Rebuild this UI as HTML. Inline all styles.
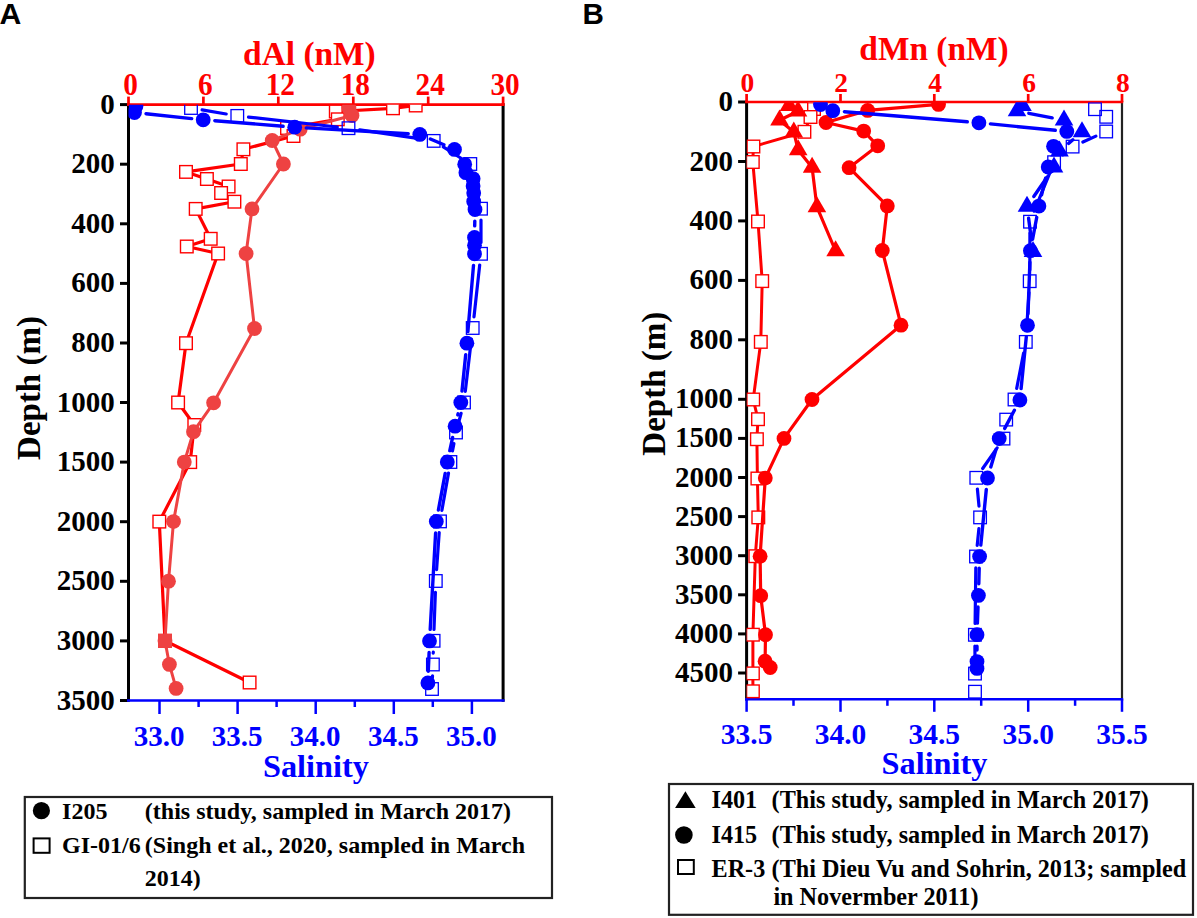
<!DOCTYPE html>
<html><head><meta charset="utf-8"><title>Figure</title>
<style>html,body{margin:0;padding:0;background:#fff;width:1197px;height:918px;overflow:hidden}svg{display:block}</style>
</head><body>
<svg width="1197" height="918" viewBox="0 0 1197 918">
<rect width="1197" height="918" fill="#fff"/>
<text x="-0.6" y="24" font-family="Liberation Sans" font-weight="bold" font-size="30.2" fill="#000">A</text>
<line x1="128.5" y1="103.3" x2="128.5" y2="701.8" stroke="#000000" stroke-width="3"/>
<line x1="503.1" y1="103.3" x2="503.1" y2="701.8" stroke="#000000" stroke-width="3"/>
<line x1="120.0" y1="104.6" x2="128.5" y2="104.6" stroke="#000000" stroke-width="3"/>
<text x="114.7" y="113.6" font-size="29" fill="#000000" text-anchor="end" font-family="Liberation Serif" font-weight="bold" >0</text>
<line x1="120.0" y1="164.2" x2="128.5" y2="164.2" stroke="#000000" stroke-width="3"/>
<text x="114.7" y="173.2" font-size="29" fill="#000000" text-anchor="end" font-family="Liberation Serif" font-weight="bold" >200</text>
<line x1="120.0" y1="223.8" x2="128.5" y2="223.8" stroke="#000000" stroke-width="3"/>
<text x="114.7" y="232.8" font-size="29" fill="#000000" text-anchor="end" font-family="Liberation Serif" font-weight="bold" >400</text>
<line x1="120.0" y1="283.4" x2="128.5" y2="283.4" stroke="#000000" stroke-width="3"/>
<text x="114.7" y="292.4" font-size="29" fill="#000000" text-anchor="end" font-family="Liberation Serif" font-weight="bold" >600</text>
<line x1="120.0" y1="343.0" x2="128.5" y2="343.0" stroke="#000000" stroke-width="3"/>
<text x="114.7" y="352.0" font-size="29" fill="#000000" text-anchor="end" font-family="Liberation Serif" font-weight="bold" >800</text>
<line x1="120.0" y1="402.5" x2="128.5" y2="402.5" stroke="#000000" stroke-width="3"/>
<text x="114.7" y="411.5" font-size="29" fill="#000000" text-anchor="end" font-family="Liberation Serif" font-weight="bold" >1000</text>
<line x1="120.0" y1="462.1" x2="128.5" y2="462.1" stroke="#000000" stroke-width="3"/>
<text x="114.7" y="471.1" font-size="29" fill="#000000" text-anchor="end" font-family="Liberation Serif" font-weight="bold" >1500</text>
<line x1="120.0" y1="521.7" x2="128.5" y2="521.7" stroke="#000000" stroke-width="3"/>
<text x="114.7" y="530.7" font-size="29" fill="#000000" text-anchor="end" font-family="Liberation Serif" font-weight="bold" >2000</text>
<line x1="120.0" y1="581.3" x2="128.5" y2="581.3" stroke="#000000" stroke-width="3"/>
<text x="114.7" y="590.3" font-size="29" fill="#000000" text-anchor="end" font-family="Liberation Serif" font-weight="bold" >2500</text>
<line x1="120.0" y1="640.9" x2="128.5" y2="640.9" stroke="#000000" stroke-width="3"/>
<text x="114.7" y="649.9" font-size="29" fill="#000000" text-anchor="end" font-family="Liberation Serif" font-weight="bold" >3000</text>
<line x1="120.0" y1="700.5" x2="128.5" y2="700.5" stroke="#000000" stroke-width="3"/>
<text x="114.7" y="709.5" font-size="29" fill="#000000" text-anchor="end" font-family="Liberation Serif" font-weight="bold" >3500</text>
<line x1="127.0" y1="104.6" x2="504.6" y2="104.6" stroke="#ff0000" stroke-width="2.7"/>
<line x1="128.5" y1="104.6" x2="128.5" y2="96.6" stroke="#ff0000" stroke-width="2.7"/>
<text transform="translate(130.5,94.6) scale(1,1.06)" font-size="29.3" fill="#ff0000" text-anchor="middle" font-family="Liberation Serif" font-weight="bold" >0</text>
<line x1="203.4" y1="104.6" x2="203.4" y2="96.6" stroke="#ff0000" stroke-width="2.7"/>
<text transform="translate(205.4,94.6) scale(1,1.06)" font-size="29.3" fill="#ff0000" text-anchor="middle" font-family="Liberation Serif" font-weight="bold" >6</text>
<line x1="278.3" y1="104.6" x2="278.3" y2="96.6" stroke="#ff0000" stroke-width="2.7"/>
<text transform="translate(280.3,94.6) scale(1,1.06)" font-size="29.3" fill="#ff0000" text-anchor="middle" font-family="Liberation Serif" font-weight="bold" >12</text>
<line x1="353.3" y1="104.6" x2="353.3" y2="96.6" stroke="#ff0000" stroke-width="2.7"/>
<text transform="translate(355.3,94.6) scale(1,1.06)" font-size="29.3" fill="#ff0000" text-anchor="middle" font-family="Liberation Serif" font-weight="bold" >18</text>
<line x1="428.2" y1="104.6" x2="428.2" y2="96.6" stroke="#ff0000" stroke-width="2.7"/>
<text transform="translate(430.2,94.6) scale(1,1.06)" font-size="29.3" fill="#ff0000" text-anchor="middle" font-family="Liberation Serif" font-weight="bold" >24</text>
<line x1="503.1" y1="104.6" x2="503.1" y2="96.6" stroke="#ff0000" stroke-width="2.7"/>
<text transform="translate(505.1,94.6) scale(1,1.06)" font-size="29.3" fill="#ff0000" text-anchor="middle" font-family="Liberation Serif" font-weight="bold" >30</text>
<text x="309.4" y="65.3" font-size="33.4" fill="#ff0000" text-anchor="middle" font-family="Liberation Serif" font-weight="bold" >dAl (nM)</text>
<line x1="127.0" y1="700.5" x2="504.6" y2="700.5" stroke="#0000ff" stroke-width="2.5"/>
<line x1="159.5" y1="700.5" x2="159.5" y2="714.0" stroke="#0000ff" stroke-width="2.5"/>
<text x="159.0" y="745.6" font-size="29" fill="#0000ff" text-anchor="middle" font-family="Liberation Serif" font-weight="bold" >33.0</text>
<line x1="198.6" y1="700.5" x2="198.6" y2="707.0" stroke="#0000ff" stroke-width="2.5"/>
<line x1="237.6" y1="700.5" x2="237.6" y2="714.0" stroke="#0000ff" stroke-width="2.5"/>
<text x="237.1" y="745.6" font-size="29" fill="#0000ff" text-anchor="middle" font-family="Liberation Serif" font-weight="bold" >33.5</text>
<line x1="276.6" y1="700.5" x2="276.6" y2="707.0" stroke="#0000ff" stroke-width="2.5"/>
<line x1="315.7" y1="700.5" x2="315.7" y2="714.0" stroke="#0000ff" stroke-width="2.5"/>
<text x="315.2" y="745.6" font-size="29" fill="#0000ff" text-anchor="middle" font-family="Liberation Serif" font-weight="bold" >34.0</text>
<line x1="354.8" y1="700.5" x2="354.8" y2="707.0" stroke="#0000ff" stroke-width="2.5"/>
<line x1="393.8" y1="700.5" x2="393.8" y2="714.0" stroke="#0000ff" stroke-width="2.5"/>
<text x="393.3" y="745.6" font-size="29" fill="#0000ff" text-anchor="middle" font-family="Liberation Serif" font-weight="bold" >34.5</text>
<line x1="432.8" y1="700.5" x2="432.8" y2="707.0" stroke="#0000ff" stroke-width="2.5"/>
<line x1="471.9" y1="700.5" x2="471.9" y2="714.0" stroke="#0000ff" stroke-width="2.5"/>
<text x="471.4" y="745.6" font-size="29" fill="#0000ff" text-anchor="middle" font-family="Liberation Serif" font-weight="bold" >35.0</text>
<text x="315.9" y="777.2" font-size="32.3" fill="#0000ff" text-anchor="middle" font-family="Liberation Serif" font-weight="bold" >Salinity</text>
<text transform="translate(40.2,388) rotate(-90)" x="0" y="0" font-size="33" fill="#000" text-anchor="middle" font-family="Liberation Serif" font-weight="bold">Depth (m)</text>
<defs><clipPath id="cA"><rect x="128.5" y="104.8" width="374.6" height="595.9"/></clipPath><clipPath id="cB"><rect x="746.6" y="102.2" width="375.4" height="597.0999999999999"/></clipPath></defs>
<g clip-path="url(#cA)">
<path d="M415.7 105.5L393.0 108.3M393.0 108.3L335.8 111.5M335.8 111.5L337.8 119.3M337.8 119.3L287.0 128.0M287.0 128.0L293.5 136.0M293.5 136.0L243.4 149.3M243.4 149.3L240.8 164.0M240.8 164.0L186.0 171.9M186.0 171.9L206.9 179.0M206.9 179.0L228.6 186.5M228.6 186.5L221.1 193.0M221.1 193.0L234.4 201.7M234.4 201.7L195.7 208.9M195.7 208.9L210.7 238.8M210.7 238.8L186.8 246.5M186.8 246.5L218.1 253.5M218.1 253.5L186.0 343.2M186.0 343.2L178.1 402.5M178.1 402.5L194.3 425.0M194.3 425.0L190.2 462.1M190.2 462.1L159.3 521.6M159.3 521.6L165.0 640.8M165.0 640.8L249.6 682.5" fill="none" stroke="#ff0000" stroke-width="3.2" stroke-linecap="butt"/>
<rect x="409.4" y="99.2" width="12.6" height="12.6" fill="#fff" stroke="#ff0000" stroke-width="1.4"/><rect x="386.7" y="102.0" width="12.6" height="12.6" fill="#fff" stroke="#ff0000" stroke-width="1.4"/><rect x="329.5" y="105.2" width="12.6" height="12.6" fill="#fff" stroke="#ff0000" stroke-width="1.4"/><rect x="331.5" y="113.0" width="12.6" height="12.6" fill="#fff" stroke="#ff0000" stroke-width="1.4"/><rect x="280.7" y="121.7" width="12.6" height="12.6" fill="#fff" stroke="#ff0000" stroke-width="1.4"/><rect x="287.2" y="129.7" width="12.6" height="12.6" fill="#fff" stroke="#ff0000" stroke-width="1.4"/><rect x="237.1" y="143.0" width="12.6" height="12.6" fill="#fff" stroke="#ff0000" stroke-width="1.4"/><rect x="234.5" y="157.7" width="12.6" height="12.6" fill="#fff" stroke="#ff0000" stroke-width="1.4"/><rect x="179.7" y="165.6" width="12.6" height="12.6" fill="#fff" stroke="#ff0000" stroke-width="1.4"/><rect x="200.6" y="172.7" width="12.6" height="12.6" fill="#fff" stroke="#ff0000" stroke-width="1.4"/><rect x="222.3" y="180.2" width="12.6" height="12.6" fill="#fff" stroke="#ff0000" stroke-width="1.4"/><rect x="214.8" y="186.7" width="12.6" height="12.6" fill="#fff" stroke="#ff0000" stroke-width="1.4"/><rect x="228.1" y="195.4" width="12.6" height="12.6" fill="#fff" stroke="#ff0000" stroke-width="1.4"/><rect x="189.4" y="202.6" width="12.6" height="12.6" fill="#fff" stroke="#ff0000" stroke-width="1.4"/><rect x="204.4" y="232.5" width="12.6" height="12.6" fill="#fff" stroke="#ff0000" stroke-width="1.4"/><rect x="180.5" y="240.2" width="12.6" height="12.6" fill="#fff" stroke="#ff0000" stroke-width="1.4"/><rect x="211.8" y="247.2" width="12.6" height="12.6" fill="#fff" stroke="#ff0000" stroke-width="1.4"/><rect x="179.7" y="336.9" width="12.6" height="12.6" fill="#fff" stroke="#ff0000" stroke-width="1.4"/><rect x="171.8" y="396.2" width="12.6" height="12.6" fill="#fff" stroke="#ff0000" stroke-width="1.4"/><rect x="188.0" y="418.7" width="12.6" height="12.6" fill="#fff" stroke="#ff0000" stroke-width="1.4"/><rect x="183.9" y="455.8" width="12.6" height="12.6" fill="#fff" stroke="#ff0000" stroke-width="1.4"/><rect x="153.0" y="515.3" width="12.6" height="12.6" fill="#fff" stroke="#ff0000" stroke-width="1.4"/><rect x="158.7" y="634.5" width="12.6" height="12.6" fill="#fff" stroke="#ff0000" stroke-width="1.4"/><rect x="243.3" y="676.2" width="12.6" height="12.6" fill="#fff" stroke="#ff0000" stroke-width="1.4"/>
<path d="M349.0 108.0L352.0 115.5M352.0 115.5L300.2 129.2M300.2 129.2L272.2 140.5M272.2 140.5L283.4 164.0M283.4 164.0L252.0 208.9M252.0 208.9L246.1 253.5M246.1 253.5L254.5 328.5M254.5 328.5L213.6 402.8M213.6 402.8L193.5 431.7M193.5 431.7L184.3 462.1M184.3 462.1L173.5 521.6M173.5 521.6L168.5 581.2M168.5 581.2L165.0 640.8M165.0 640.8L169.4 664.4M169.4 664.4L176.1 688.4" fill="none" stroke="#ee4242" stroke-width="3" stroke-linecap="butt"/>
<circle cx="349.0" cy="108.0" r="7.4" fill="#ee4242"/><circle cx="352.0" cy="115.5" r="7.4" fill="#ee4242"/><circle cx="300.2" cy="129.2" r="7.4" fill="#ee4242"/><circle cx="272.2" cy="140.5" r="7.4" fill="#ee4242"/><circle cx="283.4" cy="164.0" r="7.4" fill="#ee4242"/><circle cx="252.0" cy="208.9" r="7.4" fill="#ee4242"/><circle cx="246.1" cy="253.5" r="7.4" fill="#ee4242"/><circle cx="254.5" cy="328.5" r="7.4" fill="#ee4242"/><circle cx="213.6" cy="402.8" r="7.4" fill="#ee4242"/><circle cx="193.5" cy="431.7" r="7.4" fill="#ee4242"/><circle cx="184.3" cy="462.1" r="7.4" fill="#ee4242"/><circle cx="173.5" cy="521.6" r="7.4" fill="#ee4242"/><circle cx="168.5" cy="581.2" r="7.4" fill="#ee4242"/><circle cx="165.0" cy="640.8" r="7.4" fill="#ee4242"/><circle cx="169.4" cy="664.4" r="7.4" fill="#ee4242"/><circle cx="176.1" cy="688.4" r="7.4" fill="#ee4242"/>
<rect x="158" y="633.8" width="14" height="14" fill="#ee4242"/>
<path d="M202.1 109.9L226.2 114.0M248.5 117.1L337.3 127.0M359.7 129.9L422.5 139.2M443.3 146.9L460.7 158.0M472.9 175.0L478.4 197.7M481.0 220.0L481.0 242.5M479.7 265.0L474.0 316.8M471.4 339.2L465.3 391.3M461.1 413.4L458.9 421.6M453.9 443.6L452.5 450.9M448.5 473.1L441.9 510.3M439.2 532.7L436.6 569.7M435.4 592.3L434.0 629.5M433.3 652.1L433.2 653.2M432.5 675.8L432.4 677.7" fill="none" stroke="#0000ff" stroke-width="3.2" stroke-linecap="round"/>
<rect x="184.7" y="101.7" width="12.6" height="12.6" fill="none" stroke="#0000ff" stroke-width="1.3"/><rect x="231.0" y="109.6" width="12.6" height="12.6" fill="none" stroke="#0000ff" stroke-width="1.3"/><rect x="342.2" y="121.9" width="12.6" height="12.6" fill="none" stroke="#0000ff" stroke-width="1.3"/><rect x="427.4" y="134.6" width="12.6" height="12.6" fill="none" stroke="#0000ff" stroke-width="1.3"/><rect x="464.0" y="157.7" width="12.6" height="12.6" fill="none" stroke="#0000ff" stroke-width="1.3"/><rect x="474.7" y="202.4" width="12.6" height="12.6" fill="none" stroke="#0000ff" stroke-width="1.3"/><rect x="474.7" y="247.5" width="12.6" height="12.6" fill="none" stroke="#0000ff" stroke-width="1.3"/><rect x="466.4" y="321.7" width="12.6" height="12.6" fill="none" stroke="#0000ff" stroke-width="1.3"/><rect x="457.7" y="396.2" width="12.6" height="12.6" fill="none" stroke="#0000ff" stroke-width="1.3"/><rect x="449.7" y="426.2" width="12.6" height="12.6" fill="none" stroke="#0000ff" stroke-width="1.3"/><rect x="444.1" y="455.7" width="12.6" height="12.6" fill="none" stroke="#0000ff" stroke-width="1.3"/><rect x="433.7" y="515.1" width="12.6" height="12.6" fill="none" stroke="#0000ff" stroke-width="1.3"/><rect x="429.5" y="574.7" width="12.6" height="12.6" fill="none" stroke="#0000ff" stroke-width="1.3"/><rect x="427.3" y="634.5" width="12.6" height="12.6" fill="none" stroke="#0000ff" stroke-width="1.3"/><rect x="426.6" y="658.2" width="12.6" height="12.6" fill="none" stroke="#0000ff" stroke-width="1.3"/><rect x="425.7" y="682.7" width="12.6" height="12.6" fill="none" stroke="#0000ff" stroke-width="1.3"/>
<path d="M146.0 113.7L191.7 118.6M214.8 120.7L283.1 126.3M306.3 127.9L408.2 133.7M430.4 139.0L443.9 144.8M474.8 221.1L474.7 225.9M473.5 265.4L467.9 331.6M465.7 354.7L462.0 391.0M458.1 413.8L457.8 414.9M452.6 437.5L449.8 450.7M445.2 473.4L438.4 510.0M435.6 533.0L430.2 629.3M429.1 652.5L428.3 671.3" fill="none" stroke="#0000ff" stroke-width="3.4" stroke-linecap="round"/>
<circle cx="136.0" cy="106.0" r="7.4" fill="#0000ff"/><circle cx="134.5" cy="112.5" r="7.4" fill="#0000ff"/><circle cx="203.2" cy="119.8" r="7.4" fill="#0000ff"/><circle cx="294.7" cy="127.2" r="7.4" fill="#0000ff"/><circle cx="419.8" cy="134.4" r="7.4" fill="#0000ff"/><circle cx="454.5" cy="149.4" r="7.4" fill="#0000ff"/><circle cx="464.7" cy="164.3" r="7.4" fill="#0000ff"/><circle cx="465.9" cy="172.7" r="7.4" fill="#0000ff"/><circle cx="473.1" cy="178.7" r="7.4" fill="#0000ff"/><circle cx="473.1" cy="185.9" r="7.4" fill="#0000ff"/><circle cx="473.7" cy="193.1" r="7.4" fill="#0000ff"/><circle cx="473.7" cy="201.5" r="7.4" fill="#0000ff"/><circle cx="475.0" cy="209.5" r="7.4" fill="#0000ff"/><circle cx="474.5" cy="237.5" r="7.4" fill="#0000ff"/><circle cx="474.5" cy="245.3" r="7.4" fill="#0000ff"/><circle cx="474.5" cy="253.8" r="7.4" fill="#0000ff"/><circle cx="466.9" cy="343.2" r="7.4" fill="#0000ff"/><circle cx="460.8" cy="402.5" r="7.4" fill="#0000ff"/><circle cx="455.1" cy="426.2" r="7.4" fill="#0000ff"/><circle cx="447.3" cy="462.0" r="7.4" fill="#0000ff"/><circle cx="436.3" cy="521.4" r="7.4" fill="#0000ff"/><circle cx="429.5" cy="640.9" r="7.4" fill="#0000ff"/><circle cx="427.9" cy="682.9" r="7.4" fill="#0000ff"/>
</g>
<rect x="24.8" y="797" width="527.2" height="101" fill="none" stroke="#222" stroke-width="2.2"/>
<circle cx="41.4" cy="810.7" r="8.6" fill="#000"/>
<rect x="33.6" y="838.4" width="16" height="14.4" fill="none" stroke="#000" stroke-width="2"/>
<text x="62.1" y="818.7" font-size="24" fill="#000000" text-anchor="start" font-family="Liberation Serif" font-weight="bold" >I205</text>
<text x="144.8" y="818.7" font-size="24" fill="#000000" text-anchor="start" font-family="Liberation Serif" font-weight="bold" >(this study, sampled in March 2017)</text>
<text x="62.1" y="852.5" font-size="24" fill="#000000" text-anchor="start" font-family="Liberation Serif" font-weight="bold" >GI-01/6</text>
<text x="144.8" y="852.5" font-size="24" fill="#000000" text-anchor="start" font-family="Liberation Serif" font-weight="bold" >(Singh et al., 2020, sampled in March</text>
<text x="144.8" y="886.0" font-size="24" fill="#000000" text-anchor="start" font-family="Liberation Serif" font-weight="bold" >2014)</text>
<text x="582.5" y="24" font-family="Liberation Sans" font-weight="bold" font-size="29.6" fill="#000">B</text>
<line x1="746.6" y1="100.7" x2="746.6" y2="700.5999999999999" stroke="#000000" stroke-width="3"/>
<line x1="1122.0" y1="100.7" x2="1122.0" y2="700.5999999999999" stroke="#222" stroke-width="2.2"/>
<line x1="738.1" y1="102.0" x2="746.6" y2="102.0" stroke="#000000" stroke-width="3"/>
<text x="733.0" y="111.0" font-size="29" fill="#000000" text-anchor="end" font-family="Liberation Serif" font-weight="bold" >0</text>
<line x1="738.1" y1="161.5" x2="746.6" y2="161.5" stroke="#000000" stroke-width="3"/>
<text x="733.0" y="170.5" font-size="29" fill="#000000" text-anchor="end" font-family="Liberation Serif" font-weight="bold" >200</text>
<line x1="738.1" y1="220.9" x2="746.6" y2="220.9" stroke="#000000" stroke-width="3"/>
<text x="733.0" y="229.9" font-size="29" fill="#000000" text-anchor="end" font-family="Liberation Serif" font-weight="bold" >400</text>
<line x1="738.1" y1="280.4" x2="746.6" y2="280.4" stroke="#000000" stroke-width="3"/>
<text x="733.0" y="289.4" font-size="29" fill="#000000" text-anchor="end" font-family="Liberation Serif" font-weight="bold" >600</text>
<line x1="738.1" y1="339.8" x2="746.6" y2="339.8" stroke="#000000" stroke-width="3"/>
<text x="733.0" y="348.8" font-size="29" fill="#000000" text-anchor="end" font-family="Liberation Serif" font-weight="bold" >800</text>
<line x1="738.1" y1="399.3" x2="746.6" y2="399.3" stroke="#000000" stroke-width="3"/>
<text x="733.0" y="408.3" font-size="29" fill="#000000" text-anchor="end" font-family="Liberation Serif" font-weight="bold" >1000</text>
<line x1="738.1" y1="438.4" x2="746.6" y2="438.4" stroke="#000000" stroke-width="3"/>
<text x="733.0" y="447.4" font-size="29" fill="#000000" text-anchor="end" font-family="Liberation Serif" font-weight="bold" >1500</text>
<line x1="738.1" y1="477.5" x2="746.6" y2="477.5" stroke="#000000" stroke-width="3"/>
<text x="733.0" y="486.5" font-size="29" fill="#000000" text-anchor="end" font-family="Liberation Serif" font-weight="bold" >2000</text>
<line x1="738.1" y1="516.6" x2="746.6" y2="516.6" stroke="#000000" stroke-width="3"/>
<text x="733.0" y="525.6" font-size="29" fill="#000000" text-anchor="end" font-family="Liberation Serif" font-weight="bold" >2500</text>
<line x1="738.1" y1="555.7" x2="746.6" y2="555.7" stroke="#000000" stroke-width="3"/>
<text x="733.0" y="564.7" font-size="29" fill="#000000" text-anchor="end" font-family="Liberation Serif" font-weight="bold" >3000</text>
<line x1="738.1" y1="594.8" x2="746.6" y2="594.8" stroke="#000000" stroke-width="3"/>
<text x="733.0" y="603.8" font-size="29" fill="#000000" text-anchor="end" font-family="Liberation Serif" font-weight="bold" >3500</text>
<line x1="738.1" y1="633.9" x2="746.6" y2="633.9" stroke="#000000" stroke-width="3"/>
<text x="733.0" y="642.9" font-size="29" fill="#000000" text-anchor="end" font-family="Liberation Serif" font-weight="bold" >4000</text>
<line x1="738.1" y1="673.0" x2="746.6" y2="673.0" stroke="#000000" stroke-width="3"/>
<text x="733.0" y="682.0" font-size="29" fill="#000000" text-anchor="end" font-family="Liberation Serif" font-weight="bold" >4500</text>
<line x1="745.1" y1="102.0" x2="1123.2" y2="102.0" stroke="#ff0000" stroke-width="2.7"/>
<line x1="746.6" y1="102.0" x2="746.6" y2="94.0" stroke="#ff0000" stroke-width="2.7"/>
<text x="747.4" y="92.4" font-size="27.5" fill="#ff0000" text-anchor="middle" font-family="Liberation Serif" font-weight="bold" >0</text>
<line x1="840.5" y1="102.0" x2="840.5" y2="94.0" stroke="#ff0000" stroke-width="2.7"/>
<text x="841.2" y="92.4" font-size="27.5" fill="#ff0000" text-anchor="middle" font-family="Liberation Serif" font-weight="bold" >2</text>
<line x1="934.3" y1="102.0" x2="934.3" y2="94.0" stroke="#ff0000" stroke-width="2.7"/>
<text x="935.1" y="92.4" font-size="27.5" fill="#ff0000" text-anchor="middle" font-family="Liberation Serif" font-weight="bold" >4</text>
<line x1="1028.2" y1="102.0" x2="1028.2" y2="94.0" stroke="#ff0000" stroke-width="2.7"/>
<text x="1029.0" y="92.4" font-size="27.5" fill="#ff0000" text-anchor="middle" font-family="Liberation Serif" font-weight="bold" >6</text>
<line x1="1122.0" y1="102.0" x2="1122.0" y2="94.0" stroke="#ff0000" stroke-width="2.7"/>
<text x="1122.8" y="92.4" font-size="27.5" fill="#ff0000" text-anchor="middle" font-family="Liberation Serif" font-weight="bold" >8</text>
<text x="934.0" y="59.6" font-size="33.4" fill="#ff0000" text-anchor="middle" font-family="Liberation Serif" font-weight="bold" >dMn (nM)</text>
<line x1="745.1" y1="699.3" x2="1123.2" y2="699.3" stroke="#0000ff" stroke-width="2.5"/>
<line x1="746.6" y1="699.3" x2="746.6" y2="711.8" stroke="#0000ff" stroke-width="2.5"/>
<text x="746.6" y="744.2" font-size="29.5" fill="#0000ff" text-anchor="middle" font-family="Liberation Serif" font-weight="bold" >33.5</text>
<line x1="793.5" y1="699.3" x2="793.5" y2="705.8" stroke="#0000ff" stroke-width="2.5"/>
<line x1="840.5" y1="699.3" x2="840.5" y2="711.8" stroke="#0000ff" stroke-width="2.5"/>
<text x="840.5" y="744.2" font-size="29.5" fill="#0000ff" text-anchor="middle" font-family="Liberation Serif" font-weight="bold" >34.0</text>
<line x1="887.4" y1="699.3" x2="887.4" y2="705.8" stroke="#0000ff" stroke-width="2.5"/>
<line x1="934.3" y1="699.3" x2="934.3" y2="711.8" stroke="#0000ff" stroke-width="2.5"/>
<text x="934.3" y="744.2" font-size="29.5" fill="#0000ff" text-anchor="middle" font-family="Liberation Serif" font-weight="bold" >34.5</text>
<line x1="981.2" y1="699.3" x2="981.2" y2="705.8" stroke="#0000ff" stroke-width="2.5"/>
<line x1="1028.2" y1="699.3" x2="1028.2" y2="711.8" stroke="#0000ff" stroke-width="2.5"/>
<text x="1028.2" y="744.2" font-size="29.5" fill="#0000ff" text-anchor="middle" font-family="Liberation Serif" font-weight="bold" >35.0</text>
<line x1="1075.1" y1="699.3" x2="1075.1" y2="705.8" stroke="#0000ff" stroke-width="2.5"/>
<line x1="1122.0" y1="699.3" x2="1122.0" y2="711.8" stroke="#0000ff" stroke-width="2.5"/>
<text x="1122.0" y="744.2" font-size="29.5" fill="#0000ff" text-anchor="middle" font-family="Liberation Serif" font-weight="bold" >35.5</text>
<text x="934.5" y="774.3" font-size="32.3" fill="#0000ff" text-anchor="middle" font-family="Liberation Serif" font-weight="bold" >Salinity</text>
<text transform="translate(664.8,383.7) rotate(-90)" x="0" y="0" font-size="33" fill="#000" text-anchor="middle" font-family="Liberation Serif" font-weight="bold">Depth (m)</text>
<g clip-path="url(#cB)">
<path d="M814.0 104.0L814.0 109.0M814.0 109.0L810.5 117.0M810.5 117.0L804.4 131.8M804.4 131.8L753.4 146.5M753.4 146.5L752.8 162.0M752.8 162.0L758.0 221.5M758.0 221.5L762.2 281.1M762.2 281.1L760.8 341.9M760.8 341.9L753.2 399.5M753.2 399.5L758.0 419.2M758.0 419.2L756.9 439.2M756.9 439.2L757.4 478.5M757.4 478.5L758.3 517.4M758.3 517.4L755.3 556.2M755.3 556.2L752.9 634.7M752.9 634.7L752.9 673.4M752.9 673.4L752.9 691.3" fill="none" stroke="#ff0000" stroke-width="3" stroke-linecap="butt"/>
<rect x="807.7" y="97.7" width="12.6" height="12.6" fill="#fff" stroke="#ff0000" stroke-width="1.4"/><rect x="807.7" y="102.7" width="12.6" height="12.6" fill="#fff" stroke="#ff0000" stroke-width="1.4"/><rect x="804.2" y="110.7" width="12.6" height="12.6" fill="#fff" stroke="#ff0000" stroke-width="1.4"/><rect x="798.1" y="125.5" width="12.6" height="12.6" fill="#fff" stroke="#ff0000" stroke-width="1.4"/><rect x="747.1" y="140.2" width="12.6" height="12.6" fill="#fff" stroke="#ff0000" stroke-width="1.4"/><rect x="746.5" y="155.7" width="12.6" height="12.6" fill="#fff" stroke="#ff0000" stroke-width="1.4"/><rect x="751.7" y="215.2" width="12.6" height="12.6" fill="#fff" stroke="#ff0000" stroke-width="1.4"/><rect x="755.9" y="274.8" width="12.6" height="12.6" fill="#fff" stroke="#ff0000" stroke-width="1.4"/><rect x="754.5" y="335.6" width="12.6" height="12.6" fill="#fff" stroke="#ff0000" stroke-width="1.4"/><rect x="746.9" y="393.2" width="12.6" height="12.6" fill="#fff" stroke="#ff0000" stroke-width="1.4"/><rect x="751.7" y="412.9" width="12.6" height="12.6" fill="#fff" stroke="#ff0000" stroke-width="1.4"/><rect x="750.6" y="432.9" width="12.6" height="12.6" fill="#fff" stroke="#ff0000" stroke-width="1.4"/><rect x="751.1" y="472.2" width="12.6" height="12.6" fill="#fff" stroke="#ff0000" stroke-width="1.4"/><rect x="752.0" y="511.1" width="12.6" height="12.6" fill="#fff" stroke="#ff0000" stroke-width="1.4"/><rect x="749.0" y="549.9" width="12.6" height="12.6" fill="#fff" stroke="#ff0000" stroke-width="1.4"/><rect x="746.6" y="628.4" width="12.6" height="12.6" fill="#fff" stroke="#ff0000" stroke-width="1.4"/><rect x="746.6" y="667.1" width="12.6" height="12.6" fill="#fff" stroke="#ff0000" stroke-width="1.4"/><rect x="746.6" y="685.0" width="12.6" height="12.6" fill="#fff" stroke="#ff0000" stroke-width="1.4"/>
<path d="M789.0 105.7L798.0 111.2M798.0 111.2L779.5 120.3M779.5 120.3L793.8 132.1M793.8 132.1L798.2 150.0M798.2 150.0L812.1 167.5M812.1 167.5L816.9 206.9M816.9 206.9L835.6 251.0" fill="none" stroke="#ff0000" stroke-width="3.2" stroke-linecap="butt"/>
<path d="M789.0 95.0L798.3 111.0L779.7 111.0Z" fill="#ff0000"/><path d="M798.0 100.5L807.3 116.5L788.7 116.5Z" fill="#ff0000"/><path d="M779.5 109.6L788.8 125.6L770.2 125.6Z" fill="#ff0000"/><path d="M793.8 121.4L803.1 137.4L784.5 137.4Z" fill="#ff0000"/><path d="M798.2 139.3L807.5 155.3L788.9 155.3Z" fill="#ff0000"/><path d="M812.1 156.8L821.4 172.8L802.8 172.8Z" fill="#ff0000"/><path d="M816.9 196.2L826.2 212.2L807.6 212.2Z" fill="#ff0000"/><path d="M835.6 240.3L844.9 256.3L826.3 256.3Z" fill="#ff0000"/>
<path d="M938.5 104.4L867.7 110.4M867.7 110.4L826.0 122.5M826.0 122.5L863.7 131.1M863.7 131.1L877.7 145.8M877.7 145.8L849.1 167.7M849.1 167.7L887.3 205.9M887.3 205.9L882.3 250.5M882.3 250.5L901.0 325.2M901.0 325.2L812.0 399.5M812.0 399.5L784.0 438.4M784.0 438.4L765.3 478.1M765.3 478.1L760.1 556.2M760.1 556.2L760.7 595.7M760.7 595.7L765.5 634.7M765.5 634.7L765.1 661.2M765.1 661.2L770.2 667.5" fill="none" stroke="#ff0000" stroke-width="3.2" stroke-linecap="butt"/>
<circle cx="938.5" cy="104.4" r="7.4" fill="#ff0000"/><circle cx="867.7" cy="110.4" r="7.4" fill="#ff0000"/><circle cx="826.0" cy="122.5" r="7.4" fill="#ff0000"/><circle cx="863.7" cy="131.1" r="7.4" fill="#ff0000"/><circle cx="877.7" cy="145.8" r="7.4" fill="#ff0000"/><circle cx="849.1" cy="167.7" r="7.4" fill="#ff0000"/><circle cx="887.3" cy="205.9" r="7.4" fill="#ff0000"/><circle cx="882.3" cy="250.5" r="7.4" fill="#ff0000"/><circle cx="901.0" cy="325.2" r="7.4" fill="#ff0000"/><circle cx="812.0" cy="399.5" r="7.4" fill="#ff0000"/><circle cx="784.0" cy="438.4" r="7.4" fill="#ff0000"/><circle cx="765.3" cy="478.1" r="7.4" fill="#ff0000"/><circle cx="760.1" cy="556.2" r="7.4" fill="#ff0000"/><circle cx="760.7" cy="595.7" r="7.4" fill="#ff0000"/><circle cx="765.5" cy="634.7" r="7.4" fill="#ff0000"/><circle cx="765.1" cy="661.2" r="7.4" fill="#ff0000"/><circle cx="770.2" cy="667.5" r="7.4" fill="#ff0000"/>
<path d="M1095.9 136.1L1082.9 142.0M1064.0 153.9L1062.7 154.9M1049.9 172.7L1034.2 211.2M1029.9 233.0L1029.8 269.9M1029.0 292.5L1026.5 330.6M1023.6 353.0L1016.7 388.4M997.1 447.9L982.7 468.5M977.4 489.0L979.0 506.2M978.9 528.6L977.2 545.3M975.8 567.8L975.1 623.5M974.9 646.1L975.0 662.3" fill="none" stroke="#0000ff" stroke-width="3.2" stroke-linecap="round"/>
<rect x="1088.7" y="102.9" width="12.6" height="12.6" fill="none" stroke="#0000ff" stroke-width="1.3"/><rect x="1099.9" y="110.5" width="12.6" height="12.6" fill="none" stroke="#0000ff" stroke-width="1.3"/><rect x="1099.9" y="125.2" width="12.6" height="12.6" fill="none" stroke="#0000ff" stroke-width="1.3"/><rect x="1066.3" y="140.3" width="12.6" height="12.6" fill="none" stroke="#0000ff" stroke-width="1.3"/><rect x="1047.8" y="155.9" width="12.6" height="12.6" fill="none" stroke="#0000ff" stroke-width="1.3"/><rect x="1023.7" y="215.4" width="12.6" height="12.6" fill="none" stroke="#0000ff" stroke-width="1.3"/><rect x="1023.4" y="274.9" width="12.6" height="12.6" fill="none" stroke="#0000ff" stroke-width="1.3"/><rect x="1019.5" y="335.6" width="12.6" height="12.6" fill="none" stroke="#0000ff" stroke-width="1.3"/><rect x="1008.2" y="393.2" width="12.6" height="12.6" fill="none" stroke="#0000ff" stroke-width="1.3"/><rect x="999.9" y="413.3" width="12.6" height="12.6" fill="none" stroke="#0000ff" stroke-width="1.3"/><rect x="997.2" y="432.3" width="12.6" height="12.6" fill="none" stroke="#0000ff" stroke-width="1.3"/><rect x="970.0" y="471.5" width="12.6" height="12.6" fill="none" stroke="#0000ff" stroke-width="1.3"/><rect x="973.8" y="511.1" width="12.6" height="12.6" fill="none" stroke="#0000ff" stroke-width="1.3"/><rect x="969.7" y="550.2" width="12.6" height="12.6" fill="none" stroke="#0000ff" stroke-width="1.3"/><rect x="968.6" y="628.5" width="12.6" height="12.6" fill="none" stroke="#0000ff" stroke-width="1.3"/><rect x="968.7" y="667.3" width="12.6" height="12.6" fill="none" stroke="#0000ff" stroke-width="1.3"/><rect x="968.7" y="685.4" width="12.6" height="12.6" fill="none" stroke="#0000ff" stroke-width="1.3"/>
<path d="M1028.8 113.3L1052.2 117.9M1072.9 139.8L1068.6 143.4M1047.2 177.0L1033.8 196.5M1028.6 218.3L1031.4 239.8" fill="none" stroke="#0000ff" stroke-width="3.4" stroke-linecap="round"/>
<path d="M1022.5 95.0L1031.8 111.0L1013.2 111.0Z" fill="#0000ff"/><path d="M1017.0 100.3L1026.3 116.3L1007.7 116.3Z" fill="#0000ff"/><path d="M1064.0 109.6L1073.3 125.6L1054.7 125.6Z" fill="#0000ff"/><path d="M1082.0 121.3L1091.3 137.3L1072.7 137.3Z" fill="#0000ff"/><path d="M1059.5 140.5L1068.8 156.5L1050.2 156.5Z" fill="#0000ff"/><path d="M1054.0 156.5L1063.3 172.5L1044.7 172.5Z" fill="#0000ff"/><path d="M1027.0 195.7L1036.3 211.7L1017.7 211.7Z" fill="#0000ff"/><path d="M1033.0 241.0L1042.3 257.0L1023.7 257.0Z" fill="#0000ff"/>
<path d="M844.4 111.7L967.3 121.8M990.4 123.9L1055.3 130.3M1045.5 178.3L1041.6 194.8M1036.7 217.5L1032.6 239.3M1029.9 262.3L1028.0 313.7M1026.3 336.8L1021.1 388.5M1014.4 410.2L1004.7 428.4M995.9 449.7L990.8 466.9M986.3 489.5L980.8 545.1M979.2 568.2L978.8 583.8M978.0 607.0L977.4 623.1M977.0 646.3L977.0 650.0" fill="none" stroke="#0000ff" stroke-width="3.4" stroke-linecap="round"/>
<circle cx="820.5" cy="104.5" r="7.4" fill="#0000ff"/><circle cx="832.8" cy="110.7" r="7.4" fill="#0000ff"/><circle cx="978.9" cy="122.8" r="7.4" fill="#0000ff"/><circle cx="1066.8" cy="131.4" r="7.4" fill="#0000ff"/><circle cx="1053.5" cy="146.3" r="7.4" fill="#0000ff"/><circle cx="1048.2" cy="167.0" r="7.4" fill="#0000ff"/><circle cx="1038.9" cy="206.1" r="7.4" fill="#0000ff"/><circle cx="1030.4" cy="250.7" r="7.4" fill="#0000ff"/><circle cx="1027.5" cy="325.3" r="7.4" fill="#0000ff"/><circle cx="1019.9" cy="400.0" r="7.4" fill="#0000ff"/><circle cx="999.2" cy="438.6" r="7.4" fill="#0000ff"/><circle cx="987.5" cy="478.0" r="7.4" fill="#0000ff"/><circle cx="979.6" cy="556.6" r="7.4" fill="#0000ff"/><circle cx="978.4" cy="595.4" r="7.4" fill="#0000ff"/><circle cx="977.0" cy="634.7" r="7.4" fill="#0000ff"/><circle cx="977.0" cy="661.6" r="7.4" fill="#0000ff"/><circle cx="977.0" cy="668.4" r="7.4" fill="#0000ff"/>
</g>
<rect x="669" y="784" width="524" height="130.8" fill="none" stroke="#222" stroke-width="2.2"/>
<path d="M685.4 791.3L695.7 808.1L675.1 808.1Z" fill="#000"/>
<circle cx="683.9" cy="835" r="8.8" fill="#000"/>
<rect x="678" y="860" width="15.8" height="14" fill="none" stroke="#000" stroke-width="2"/>
<text x="711.5" y="807.6" font-size="24.2" fill="#000000" text-anchor="start" font-family="Liberation Serif" font-weight="bold" >I401</text>
<text x="771.6" y="807.6" font-size="24.2" fill="#000000" text-anchor="start" font-family="Liberation Serif" font-weight="bold" >(This study, sampled in March 2017)</text>
<text x="711.5" y="842.7" font-size="24.2" fill="#000000" text-anchor="start" font-family="Liberation Serif" font-weight="bold" >I415</text>
<text x="771.6" y="842.7" font-size="24.2" fill="#000000" text-anchor="start" font-family="Liberation Serif" font-weight="bold" >(This study, sampled in March 2017)</text>
<text x="711.5" y="876.5" font-size="24.2" fill="#000000" text-anchor="start" font-family="Liberation Serif" font-weight="bold" >ER-3</text>
<text x="771.6" y="876.5" font-size="24.2" fill="#000000" text-anchor="start" font-family="Liberation Serif" font-weight="bold" >(Thi Dieu Vu and Sohrin, 2013; sampled</text>
<text x="773.4" y="905.3" font-size="24.2" fill="#000000" text-anchor="start" font-family="Liberation Serif" font-weight="bold" >in Novermber 2011)</text>
</svg>
</body></html>
